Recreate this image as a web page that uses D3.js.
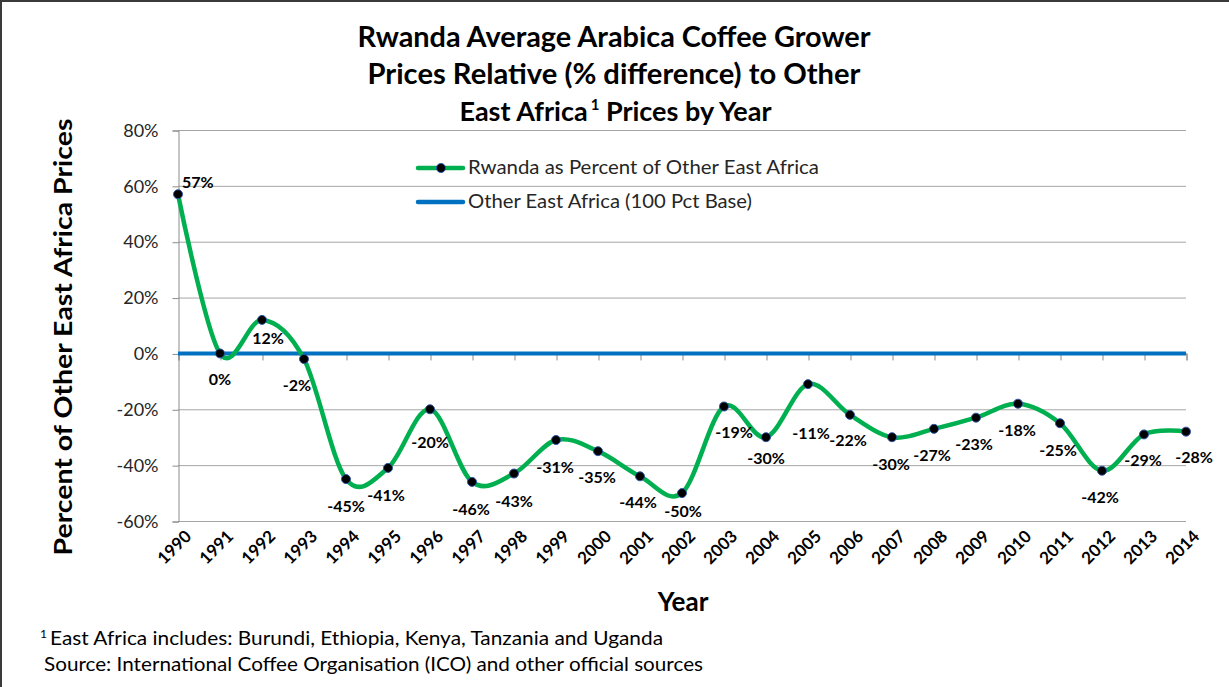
<!DOCTYPE html>
<html><head><meta charset="utf-8">
<script src="https://cdn.jsdelivr.net/npm/d3@7"></script>
<style>
html,body{margin:0;padding:0;background:#fff;}
svg{display:block;}
text{font-family:Lato,"Open Sans",sans-serif;}
</style></head>
<body><svg id="c" width="1229" height="687"></svg>
<script>
// ---- data ----
const years = ["1990","1991","1992","1993","1994","1995","1996","1997","1998","1999","2000","2001","2002","2003","2004","2005","2006","2007","2008","2009","2010","2011","2012","2013","2014"];
const rwandaPct = [57,0,12,-2,-45,-41,-20,-46,-43,-31,-35,-44,-50,-19,-30,-11,-22,-30,-27,-23,-18,-25,-42,-29,-28];
const basePct = years.map(() => 0);
const yTicks = [-60,-40,-20,0,20,40,60,80];
const titleLines = ["Rwanda Average Arabica Coffee Grower","Prices Relative (% difference) to Other","East Africa"];
const seriesNames = ["Rwanda as Percent of Other East Africa","Other East Africa (100 Pct Base)"];
const footnotes = ["East Africa includes: Burundi, Ethiopia, Kenya, Tanzania and Uganda","Source: International Coffee Organisation (ICO) and other official sources"];
// label placement offsets (layout)
const labelDx = [19,0,6,-7,0,-2,0,-1,0,-1,-1,-2,1,10,0,3,-2,-1,-2,-2,-1,-2,-2,-1,8];
const labelDy = [-12,26,18,26,27,27,33,27,28,27,26,26,18,26,21,49,26,27,27,27,27,27,27,26,26];

const svg = d3.select("#c");
const x = d3.scalePoint().domain(years).range([178,1186]);
const y = d3.scaleLinear().domain([-60,80]).range([521,130]);
const green = "#00B050", blue = "#0070C0";

// frame
svg.append("line").attr("x1",0).attr("x2",1229).attr("y1",1).attr("y2",1).attr("stroke","#3a3a3a").attr("stroke-width",2);
svg.append("line").attr("x1",1).attr("x2",1).attr("y1",0).attr("y2",687).attr("stroke","#3a3a3a").attr("stroke-width",2);

function fit(sel, w){ sel.attr("textLength",w).attr("lengthAdjust","spacingAndGlyphs"); return sel; }

// title
const title = svg.append("g").attr("font-weight","bold").attr("fill","#000").attr("font-size",28);
fit(title.append("text").attr("x",614).attr("y",47).attr("text-anchor","middle").text(titleLines[0]),513);
fit(title.append("text").attr("x",614).attr("y",84).attr("text-anchor","middle").text(titleLines[1]),493);
const t3 = title.append("text").attr("x",0).attr("y",121).attr("font-size",27);
t3.append("tspan").text(titleLines[2]);
t3.append("tspan").text("1").attr("font-size",15).attr("dy",-11).attr("dx",3);
t3.append("tspan").text(" Prices by Year").attr("dy",11);
const w3 = t3.node().getComputedTextLength();
t3.attr("x",614 - w3/2);

// gridlines
svg.append("g").selectAll("line").data(yTicks).join("line")
  .attr("x1",178).attr("x2",1186).attr("y1",d=>y(d)+0.5).attr("y2",d=>y(d)+0.5)
  .attr("stroke","#a6a6a6").attr("stroke-width",1);

// y axis
const yAxis = svg.append("g").attr("transform","translate(178.5,0.5)")
  .call(d3.axisLeft(y).tickValues(yTicks).tickSize(6).tickPadding(14).tickFormat(d=>d+"%"));
yAxis.select(".domain").attr("stroke","#8c8c8c");
yAxis.selectAll(".tick line").attr("stroke","#8c8c8c");
yAxis.selectAll("text").attr("font-size",18).attr("fill","#262626").attr("font-family","Lato,sans-serif");

// x axis ticks at 0 line
const xAxis = svg.append("g").attr("transform",`translate(0.5,${y(0)})`)
  .call(d3.axisBottom(x).tickSize(7).tickFormat(""));
xAxis.select(".domain").attr("stroke","#8c8c8c");
xAxis.selectAll(".tick line").attr("stroke","#8c8c8c");

// x tick labels (low position)
svg.append("g").selectAll("text").data(years).join("text")
  .attr("transform",d=>`translate(${x(d)+6},${529}) rotate(-45)`)
  .attr("text-anchor","end").attr("dy","0.7em")
  .attr("font-size",17).attr("font-weight","bold").attr("fill","#000")
  .text(d=>d);

// base line
svg.append("path").datum(basePct)
  .attr("d",d3.line().x((d,i)=>x(years[i])).y(d=>y(d)))
  .attr("fill","none").attr("stroke",blue).attr("stroke-width",4);

// rwanda curve
svg.append("path").datum(rwandaPct)
  .attr("d",d3.line().x((d,i)=>x(years[i])).y(d=>y(d)).curve(d3.curveCardinal.tension(0)))
  .attr("fill","none").attr("stroke",green).attr("stroke-width",4.5).attr("stroke-linejoin","round");

svg.append("g").selectAll("circle").data(rwandaPct).join("circle")
  .attr("cx",(d,i)=>x(years[i])).attr("cy",d=>y(d)).attr("r",4.5)
  .attr("fill","#000").attr("stroke","#2f55a4").attr("stroke-width",1);

// data labels
svg.append("g").selectAll("text").data(rwandaPct).join("text")
  .attr("x",(d,i)=>x(years[i])+labelDx[i]).attr("y",(d,i)=>y(d)+labelDy[i])
  .attr("text-anchor",(d,i)=>i===0?"start":"middle")
  .attr("dx",(d,i)=>i===0?-15:0)
  .attr("dy","0.35em").attr("font-size",16).attr("font-weight","bold").attr("fill","#000")
  .text(d=>d+"%");

// legend
const lg = svg.append("g");
lg.append("line").attr("x1",418).attr("x2",463).attr("y1",168).attr("y2",168).attr("stroke",green).attr("stroke-width",4.5).attr("stroke-linecap","round");
lg.append("circle").attr("cx",441).attr("cy",168).attr("r",4.5).attr("fill","#000").attr("stroke","#2f55a4");
lg.append("line").attr("x1",418).attr("x2",463).attr("y1",202).attr("y2",202).attr("stroke",blue).attr("stroke-width",4.5).attr("stroke-linecap","round");
fit(lg.append("text").attr("x",468).attr("y",174).attr("font-size",19).attr("fill","#262626").text(seriesNames[0]),351);
fit(lg.append("text").attr("x",468).attr("y",208).attr("font-size",19).attr("fill","#262626").text(seriesNames[1]),284);

// axis titles
svg.append("text").attr("x",683).attr("y",611).attr("text-anchor","middle")
  .attr("font-size",26).attr("font-weight","bold").attr("fill","#000").text("Year");
fit(svg.append("text").attr("transform","translate(72,337) rotate(-90)").attr("text-anchor","middle")
  .attr("font-size",25).attr("font-weight","bold").attr("fill","#000").text("Percent of Other East Africa Prices"),437);

// footnotes
svg.append("text").attr("x",40).attr("y",638).attr("font-size",12).attr("fill","#000").text("1");
fit(svg.append("text").attr("x",50).attr("y",645).attr("font-size",19).attr("fill","#000").text(footnotes[0]),613);
fit(svg.append("text").attr("x",44).attr("y",671).attr("font-size",19).attr("fill","#000").text(footnotes[1]),659);
</script></body></html>
